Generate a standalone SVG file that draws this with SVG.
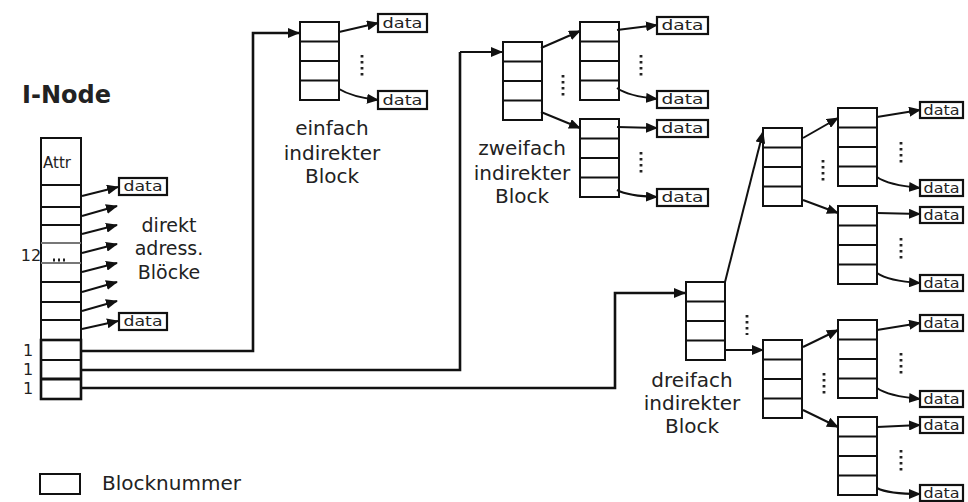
<svg xmlns="http://www.w3.org/2000/svg" xmlns:xlink="http://www.w3.org/1999/xlink" width="968" height="502" viewBox="0 0 968 502">
<style>
.bx{fill:#fff;stroke:#111;stroke-width:2}
.rl{stroke:#111;stroke-width:2}
.t{font-family:"DejaVu Sans",sans-serif;fill:#222;font-size:20px}
.tm{text-anchor:middle}
.dt{font-family:"DejaVu Sans",sans-serif;fill:#222;font-size:14px;text-anchor:middle}
.db{fill:#fff;stroke:#111;stroke-width:2.2}
.c{fill:none;stroke:#111;stroke-width:2}
.cl{fill:none;stroke:#111;stroke-width:2.6}
.dots{stroke:#222;stroke-width:2.8;stroke-dasharray:2.5 3.5;fill:none}
</style>
<defs>
<marker id="ah" markerWidth="12" markerHeight="10" refX="11" refY="5" orient="auto" markerUnits="userSpaceOnUse"><path d="M0,0 L12,5 L0,10 z" fill="#111"/></marker>
<g id="blk"><rect class="bx" x="0" y="0" width="39" height="78"/><line class="rl" x1="0" y1="19.5" x2="39" y2="19.5"/><line class="rl" x1="0" y1="39" x2="39" y2="39"/><line class="rl" x1="0" y1="58.5" x2="39" y2="58.5"/></g>
</defs>
<rect width="968" height="502" fill="#fff"/>

<g id="inode">
<text class="t" x="22" y="103" style="font-size:24px;font-weight:bold">I-Node</text>
<rect class="bx" x="41" y="138" width="40" height="261"/>
<text class="t" x="43" y="168" style="font-size:15px">Attr</text>
<g class="rl">
<line x1="41" y1="185" x2="81" y2="185"/><line x1="41" y1="207" x2="81" y2="207"/><line x1="41" y1="225" x2="81" y2="225"/><line x1="41" y1="243" x2="81" y2="243" stroke="#777"/><line x1="41" y1="263" x2="81" y2="263" stroke="#777"/><line x1="41" y1="282" x2="81" y2="282"/><line x1="41" y1="302" x2="81" y2="302"/><line x1="41" y1="320" x2="81" y2="320"/><line x1="41" y1="340" x2="81" y2="340"/><line x1="41" y1="360" x2="81" y2="360"/><line x1="41" y1="379" x2="81" y2="379" stroke-width="3"/>
</g>
<rect x="41" y="340" width="40" height="59" fill="none" stroke="#111" stroke-width="2.6"/>
<line class="dots" x1="53" y1="260" x2="68" y2="260" style="stroke-dasharray:2 3"/>
<text class="t" x="31" y="261" style="font-size:16px" text-anchor="middle">12</text>
<text class="t" x="28" y="356" style="font-size:16px" text-anchor="middle">1</text>
<text class="t" x="28" y="375" style="font-size:16px" text-anchor="middle">1</text>
<text class="t" x="28" y="394" style="font-size:16px" text-anchor="middle">1</text>
</g>

<g id="direkt-label">
<text class="t tm" x="169" y="232" style="font-size:19px">direkt</text>
<text class="t tm" x="169" y="255" style="font-size:19px">adress.</text>
<text class="t tm" x="169" y="279" style="font-size:19px">Blöcke</text>
</g>

<g id="data-direkt">
<rect class="db" x="119" y="178" width="48" height="17"/><text class="dt" x="143" y="191" textLength="39" lengthAdjust="spacingAndGlyphs">data</text>
<rect class="db" x="119" y="313" width="48" height="17"/><text class="dt" x="143" y="326" textLength="39" lengthAdjust="spacingAndGlyphs">data</text>
</g>

<g id="einfach">
<use xlink:href="#blk" x="300" y="22"/>
<text class="t tm" x="332" y="135">einfach</text>
<text class="t tm" x="332" y="160">indirekter</text>
<text class="t tm" x="332" y="183">Block</text>
<line class="dots" x1="362" y1="55" x2="362" y2="77"/>
<rect class="db" x="378" y="14" width="49" height="18"/><text class="dt" x="402.5" y="28" textLength="40" lengthAdjust="spacingAndGlyphs">data</text>
<rect class="db" x="378" y="91" width="49" height="18"/><text class="dt" x="402.5" y="105" textLength="40" lengthAdjust="spacingAndGlyphs">data</text>
</g>

<g id="zweifach">
<use xlink:href="#blk" x="503" y="42"/>
<use xlink:href="#blk" x="580" y="22"/>
<use xlink:href="#blk" x="580" y="119"/>
<text class="t tm" x="522" y="155">zweifach</text>
<text class="t tm" x="522" y="180">indirekter</text>
<text class="t tm" x="522" y="203">Block</text>
<line class="dots" x1="563" y1="75" x2="563" y2="97"/>
<line class="dots" x1="641" y1="55" x2="641" y2="77"/>
<line class="dots" x1="641" y1="152" x2="641" y2="174"/>
<rect class="db" x="657" y="17" width="51" height="17"/><text class="dt" x="682.5" y="30" textLength="42" lengthAdjust="spacingAndGlyphs">data</text>
<rect class="db" x="657" y="91" width="51" height="17"/><text class="dt" x="682.5" y="104" textLength="42" lengthAdjust="spacingAndGlyphs">data</text>
<rect class="db" x="657" y="120" width="51" height="17"/><text class="dt" x="682.5" y="133" textLength="42" lengthAdjust="spacingAndGlyphs">data</text>
<rect class="db" x="657" y="189" width="51" height="17"/><text class="dt" x="682.5" y="202" textLength="42" lengthAdjust="spacingAndGlyphs">data</text>
</g>

<g id="dreifach">
<use xlink:href="#blk" x="686" y="282"/>
<use xlink:href="#blk" x="763" y="128"/>
<use xlink:href="#blk" x="763" y="340"/>
<use xlink:href="#blk" x="838" y="108"/>
<use xlink:href="#blk" x="838" y="206"/>
<use xlink:href="#blk" x="838" y="320"/>
<use xlink:href="#blk" x="838" y="417"/>
<text class="t tm" x="692" y="387">dreifach</text>
<text class="t tm" x="692" y="410">indirekter</text>
<text class="t tm" x="692" y="433">Block</text>
<line class="dots" x1="747" y1="315" x2="747" y2="335"/>
<line class="dots" x1="823" y1="160" x2="823" y2="182"/>
<line class="dots" x1="824" y1="373" x2="824" y2="395"/>
<line class="dots" x1="901" y1="142" x2="901" y2="164"/>
<line class="dots" x1="901" y1="238" x2="901" y2="260"/>
<line class="dots" x1="901" y1="353" x2="901" y2="375"/>
<line class="dots" x1="901" y1="450" x2="901" y2="472"/>
<rect class="db" x="920" y="102" width="43" height="16"/><text class="dt" x="941.5" y="115" textLength="36" lengthAdjust="spacingAndGlyphs">data</text>
<rect class="db" x="920" y="180" width="43" height="16"/><text class="dt" x="941.5" y="193" textLength="36" lengthAdjust="spacingAndGlyphs">data</text>
<rect class="db" x="920" y="207" width="43" height="16"/><text class="dt" x="941.5" y="220" textLength="36" lengthAdjust="spacingAndGlyphs">data</text>
<rect class="db" x="920" y="275" width="43" height="16"/><text class="dt" x="941.5" y="288" textLength="36" lengthAdjust="spacingAndGlyphs">data</text>
<rect class="db" x="920" y="315" width="43" height="16"/><text class="dt" x="941.5" y="328" textLength="36" lengthAdjust="spacingAndGlyphs">data</text>
<rect class="db" x="920" y="391" width="43" height="16"/><text class="dt" x="941.5" y="404" textLength="36" lengthAdjust="spacingAndGlyphs">data</text>
<rect class="db" x="920" y="417" width="43" height="16"/><text class="dt" x="941.5" y="430" textLength="36" lengthAdjust="spacingAndGlyphs">data</text>
<rect class="db" x="920" y="485" width="43" height="16"/><text class="dt" x="941.5" y="498" textLength="36" lengthAdjust="spacingAndGlyphs">data</text>
</g>

<g id="legend">
<rect class="bx" x="40" y="474" width="40" height="20"/>
<text class="t" x="102" y="490">Blocknummer</text>
</g>

<g id="connectors">
<g class="c" marker-end="url(#ah)">
<path d="M82,196 L118,187"/>
<path d="M82,216 L117,206"/>
<path d="M82,234 L117,225"/>
<path d="M82,253 L117,244"/>
<path d="M82,272 L117,263"/>
<path d="M82,292 L117,282"/>
<path d="M82,311 L117,301"/>
<path d="M82,329 L118,321"/>
<path d="M339,32 L378,23"/>
<path d="M339,89 Q352,97 378,100"/>
<path d="M541,48 L580,31"/>
<path d="M541,112 L580,128"/>
<path d="M617,30 L657,25"/>
<path d="M617,88 Q628,96 657,99"/>
<path d="M617,127 L657,128"/>
<path d="M617,190 Q628,196 657,197"/>
<path d="M725,282 L763,132"/>
<path d="M725,350 L763,350"/>
<path d="M803,138 L838,118"/>
<path d="M803,200 L838,213"/>
<path d="M877,117 L920,110"/>
<path d="M877,177 Q888,185 920,188"/>
<path d="M877,213 L920,214"/>
<path d="M877,273 Q888,281 920,283"/>
<path d="M803,347 L838,330"/>
<path d="M803,410 L838,427"/>
<path d="M877,330 L920,323"/>
<path d="M877,388 Q888,396 920,399"/>
<path d="M877,427 L920,425"/>
<path d="M877,488 Q888,494 920,494"/>
</g>
<path class="cl" d="M81,351 H253 V33 H299" marker-end="url(#ah)"/>
<path class="cl" d="M81,370 H460 V52" />
<path class="c" d="M460,52 H502" marker-end="url(#ah)"/>
<path class="cl" d="M81,388 H615 V293 H685" marker-end="url(#ah)"/>
</g>
</svg>
